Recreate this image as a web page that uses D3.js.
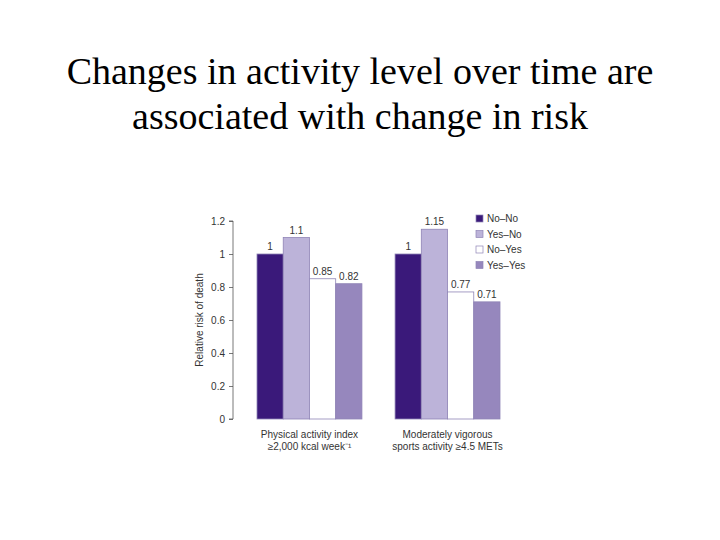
<!DOCTYPE html>
<html>
<head>
<meta charset="utf-8">
<script src="https://cdn.jsdelivr.net/npm/d3@7"></script>
<style>
  body { margin: 0; background: #fff; }
  .title { font-family: "Liberation Serif", "Times New Roman", serif; font-size: 38px; fill: #000; }
  .small { font-family: "Liberation Sans", Arial, sans-serif; font-size: 10px; fill: #333; }
</style>
</head>
<body>
<svg id="chart" width="720" height="540"></svg>
<script>
const groups = ["Physical activity index|≥2,000 kcal week⁻¹", "Moderately vigorous|sports activity ≥4.5 METs"];
const series = ["No–No", "Yes–No", "No–Yes", "Yes–Yes"];
const values = [
  [1, 1.1, 0.85, 0.82],
  [1, 1.15, 0.77, 0.71]
];
const valueLabels = [
  ["1", "1.1", "0.85", "0.82"],
  ["1", "1.15", "0.77", "0.71"]
];
const yTicks = [0, 0.2, 0.4, 0.6, 0.8, 1, 1.2];
const colors = ["#3a197a", "#bcb3d9", "#ffffff", "#9687bd"];

const svg = d3.select("#chart");

// title
svg.append("text").attr("class", "title").attr("x", 360).attr("y", 84)
  .attr("text-anchor", "middle").text("Changes in activity level over time are");
svg.append("text").attr("class", "title").attr("x", 360).attr("y", 129)
  .attr("text-anchor", "middle").text("associated with change in risk");

const y = d3.scaleLinear().domain([0, 1.2]).range([419, 221]);
const x0 = d3.scaleBand().domain(groups).range([257, 500]).paddingInner(0.24);
const x1 = d3.scaleBand().domain(series).range([0, x0.bandwidth()]);

const yAxis = d3.axisLeft(y).tickValues(yTicks).tickSize(4).tickPadding(4)
  .tickFormat(d => d3.format("")(d));
const ga = svg.append("g").attr("transform", "translate(233,0)").call(yAxis);
ga.selectAll("path, line").attr("stroke", "#555").attr("stroke-width", 0.8);
ga.select(".domain").attr("d", "M-4," + y(1.2) + "H0V" + y(0) + "H-4");
ga.selectAll("text").attr("class", "small").attr("font-size", null).attr("font-family", null);

svg.append("text").attr("class", "small")
  .attr("transform", "translate(203," + y(0.6) + ") rotate(-90)")
  .attr("text-anchor", "middle").text("Relative risk of death");

// bars
groups.forEach((g, gi) => {
  const gg = svg.append("g").attr("transform", "translate(" + x0(g) + ",0)");
  gg.selectAll("rect").data(values[gi]).join("rect")
    .attr("x", (d, i) => x1(series[i]))
    .attr("y", d => y(d))
    .attr("width", x1.bandwidth())
    .attr("height", d => y(0) - y(d))
    .attr("fill", (d, i) => colors[i])
    .attr("stroke", "#8f84b6")
    .attr("stroke-width", 0.8);
  gg.selectAll("text.val").data(values[gi]).join("text")
    .attr("class", "small val")
    .attr("x", (d, i) => x1(series[i]) + x1.bandwidth() / 2)
    .attr("y", d => y(d) - 4)
    .attr("text-anchor", "middle")
    .text((d, i) => valueLabels[gi][i]);
  const lines = g.split("|");
  lines.forEach((l, li) => {
    gg.append("text").attr("class", "small")
      .attr("x", x0.bandwidth() / 2).attr("y", 438 + li * 12)
      .attr("text-anchor", "middle").text(l);
  });
});

// legend
const lg = svg.append("g").attr("transform", "translate(476,215)");
series.forEach((s, i) => {
  lg.append("rect").attr("x", 0).attr("y", i * 15.5).attr("width", 7).attr("height", 7)
    .attr("fill", colors[i]).attr("stroke", "#8f84b6").attr("stroke-width", 0.7);
  lg.append("text").attr("class", "small").attr("x", 11).attr("y", i * 15.5 + 7).text(s);
});
</script>
</body>
</html>
